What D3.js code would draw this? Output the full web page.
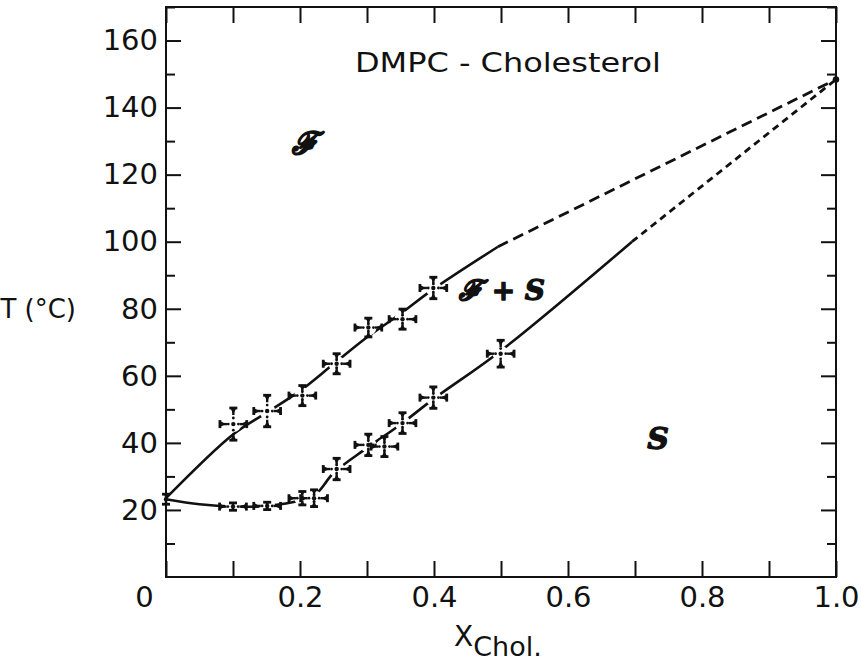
<!DOCTYPE html>
<html>
<head>
<meta charset="utf-8">
<script src="https://cdn.jsdelivr.net/npm/d3@7"></script>
<style>
  body { margin: 0; background: #fff; }
  svg { display: block; }
  .axis text { font-family: "DejaVu Sans", sans-serif; fill: #111; }
  .axis line { stroke: #111; stroke-width: 2; }
  .axis path { display: none; }
</style>
</head>
<body>
<div id="chart"></div>
<script>
// tick values
const xTicks = [0, 0.1, 0.2, 0.3, 0.4, 0.5, 0.6, 0.7, 0.8, 0.9, 1.0]
const xLabels = {0: "0", 0.2: "0.2", 0.4: "0.4", 0.6: "0.6", 0.8: "0.8", 1: "1.0"}
const yMajor = [20, 40, 60, 80, 100, 120, 140, 160]
const yMinor = [10, 30, 50, 70, 90, 110, 130, 150, 170]

// measured points, upper boundary (F / F+S)
const upperX = [0.1005, 0.151, 0.2035, 0.2547, 0.302, 0.353, 0.399]
const upperT = [45.6, 49.5, 54.1, 63.6, 74.4, 76.9, 86.2]
const upperErrX = [0.02, 0.02, 0.02, 0.02, 0.02, 0.02, 0.02]
const upperErrT = [4.8, 4.7, 3.0, 3.0, 2.8, 3.0, 3.2]

// measured points, lower boundary (F+S / S)
const lowerX = [0, 0.1, 0.151, 0.2035, 0.221, 0.2547, 0.302, 0.326, 0.353, 0.399, 0.4995]
const lowerT = [23.2, 21.0, 21.2, 23.5, 23.5, 32.2, 39.4, 38.9, 45.9, 53.5, 66.6]
const lowerErrX = [0, 0.02, 0.02, 0.02, 0.02, 0.02, 0.02, 0.02, 0.02, 0.02, 0.02]
const lowerErrT = [1.5, 1.1, 1.1, 2.0, 2.5, 3.2, 3.2, 3.0, 3.1, 3.2, 4.0]

// drawn boundary lines (solid part), then extrapolated (dashed) part
const upperLineX = [0, 0.1, 0.15, 0.2, 0.25, 0.3, 0.35, 0.4, 0.4955]
const upperLineT = [23.5, 42.5, 49.0, 55.5, 63.5, 71.5, 78.5, 86.0, 98.5]
const upperDashX = [0.4955, 1.0]
const upperDashT = [98.5, 148.4]

const lowerLineX = [0, 0.05, 0.1, 0.15, 0.2, 0.225, 0.25, 0.3, 0.35, 0.4, 0.5, 0.6955]
const lowerLineT = [23.2, 21.7, 21.0, 21.2, 22.8, 25.0, 31.0, 38.5, 45.5, 53.2, 67.5, 100]
const lowerDashX = [0.6955, 1.0]
const lowerDashT = [100, 148.4]

const endPoint = {x: 1.0, t: 148.4}

const width = 861, height = 663
const margin = {left: 166, right: 25, top: 7, bottom: 86}

var svg = d3.select("#chart")
  .append("svg")
    .attr("width", width)
    .attr("height", height)

var x = d3.scaleLinear().domain([0, 1]).range([margin.left, width - margin.right])
var y = d3.scaleLinear().domain([0, 170]).range([height - margin.bottom, margin.top])

const ink = "#111"

// axes, ticks pointing inward
svg.append("g")
  .attr("class", "axis")
  .attr("transform", "translate(0," + y(0) + ")")
  .call(d3.axisBottom(x).tickValues(xTicks).tickSize(-16).tickPadding(9)
    .tickFormat(d => xLabels[Math.round(d * 10) / 10] || ""))
  .call(g => g.selectAll("text").attr("font-size", 29))
  .call(g => g.selectAll(".tick").filter(d => d === 0).select("text").attr("dx", -22))

svg.append("g")
  .attr("class", "axis")
  .attr("transform", "translate(0," + y(170) + ")")
  .call(d3.axisTop(x).tickValues(xTicks).tickSize(-16).tickFormat(""))

svg.append("g")
  .attr("class", "axis")
  .attr("transform", "translate(" + x(0) + ",0)")
  .call(d3.axisLeft(y).tickValues(yMajor).tickSize(-15).tickPadding(8))
  .call(g => g.selectAll("text").attr("font-size", 29))

svg.append("g")
  .attr("class", "axis")
  .attr("transform", "translate(" + x(0) + ",0)")
  .call(d3.axisLeft(y).tickValues(yMinor).tickSize(-9).tickFormat(""))

svg.append("g")
  .attr("class", "axis")
  .attr("transform", "translate(" + x(1) + ",0)")
  .call(d3.axisRight(y).tickValues(yMajor).tickSize(-15).tickFormat(""))

svg.append("g")
  .attr("class", "axis")
  .attr("transform", "translate(" + x(1) + ",0)")
  .call(d3.axisRight(y).tickValues(yMinor).tickSize(-9).tickFormat(""))

// frame
svg.append("rect")
  .attr("x", x(0)).attr("y", y(170))
  .attr("width", x(1) - x(0)).attr("height", y(0) - y(170))
  .attr("fill", "none").attr("stroke", ink).attr("stroke-width", 2)

// boundary lines
var line = d3.line().x(d => x(d[0])).y(d => y(d[1])).curve(d3.curveCatmullRom)
const zip = (a, b) => a.map((v, i) => [v, b[i]])

svg.append("path")
  .datum(zip(upperLineX, upperLineT))
  .attr("d", line)
  .attr("fill", "none").attr("stroke", ink).attr("stroke-width", 2.6)

svg.append("path")
  .datum(zip(lowerLineX, lowerLineT))
  .attr("d", line)
  .attr("fill", "none").attr("stroke", ink).attr("stroke-width", 2.6)

svg.append("path")
  .datum(zip(upperDashX, upperDashT))
  .attr("d", line)
  .attr("fill", "none").attr("stroke", ink).attr("stroke-width", 2.8)
  .attr("stroke-dasharray", "11,6")

svg.append("path")
  .datum(zip(lowerDashX, lowerDashT))
  .attr("d", line)
  .attr("fill", "none").attr("stroke", ink).attr("stroke-width", 2.8)
  .attr("stroke-dasharray", "7,5")

svg.append("circle")
  .attr("cx", x(endPoint.x)).attr("cy", y(endPoint.t))
  .attr("r", 3.2).attr("fill", ink)

// error-bar crosses
function drawPoints(xs, ts, exs, ets) {
  var pts = xs.map((v, i) => ({x: v, t: ts[i], ex: exs[i], et: ets[i]}))

  var g = svg.append("g")
  var cross = g.selectAll("g.pt")
    .data(pts)
    .enter()
    .append("g")
    .attr("class", "pt")
    .attr("transform", d => "translate(" + x(d.x) + "," + y(d.t) + ")")

  // white gap where the boundary line meets the cross
  cross.append("circle")
    .attr("r", d => d.ex > 0 ? 8 : 0)
    .attr("fill", "#fff")

  cross.each(function(d) {
    var c = d3.select(this)
    var lx = x(d.x + d.ex) - x(d.x)
    var ly = y(d.t - d.et) - y(d.t)
    var arms = [[1, 0, lx], [-1, 0, lx], [0, 1, ly], [0, -1, ly]]
    arms.forEach(a => {
      var L = a[2]
      if (L <= 0) return
      var ux = a[0], uy = a[1]
      // end cap
      c.append("line")
        .attr("x1", ux * L - uy * 4).attr("y1", uy * L - ux * 4)
        .attr("x2", ux * L + uy * 4).attr("y2", uy * L + ux * 4)
        .attr("stroke", ink).attr("stroke-width", 2.8)
      // wedge toward the centre
      var w = Math.min(6, L * 0.5)
      c.append("path")
        .attr("d", "M" + (ux * L - uy * 3) + "," + (uy * L - ux * 3) +
                   "L" + (ux * L + uy * 3) + "," + (uy * L + ux * 3) +
                   "L" + (ux * (L - w)) + "," + (uy * (L - w)) + "Z")
        .attr("fill", ink)
      c.append("line")
        .attr("x1", ux * L).attr("y1", uy * L)
        .attr("x2", ux * (L - w - 1)).attr("y2", uy * (L - w - 1))
        .attr("stroke", ink).attr("stroke-width", 2.4)
      if (L > 8) {
        c.append("circle")
          .attr("cx", ux * L * 0.38).attr("cy", uy * L * 0.38)
          .attr("r", 1.4).attr("fill", ink)
      }
    })
    c.append("circle").attr("r", 2.2).attr("fill", ink)
  })
}

drawPoints(upperX, upperT, upperErrX, upperErrT)
drawPoints(lowerX, lowerT, lowerErrX, lowerErrT)

// texts
svg.append("text")
  .attr("x", 355).attr("y", 72)
  .attr("font-family", "DejaVu Sans, sans-serif")
  .attr("font-size", 26)
  .attr("textLength", 306).attr("lengthAdjust", "spacingAndGlyphs")
  .attr("fill", ink)
  .text("DMPC - Cholesterol")

svg.append("text")
  .attr("x", 76).attr("y", y(80))
  .attr("dy", "0.36em")
  .attr("text-anchor", "end")
  .attr("font-family", "DejaVu Sans, sans-serif")
  .attr("font-size", 26)
  .attr("fill", ink)
  .text("T (°C)")

var xl = svg.append("text")
  .attr("x", 454).attr("y", 646)
  .attr("font-family", "DejaVu Sans, sans-serif")
  .attr("font-size", 28)
  .attr("fill", ink)
xl.append("tspan").text("X")
xl.append("tspan").attr("dy", 10).attr("font-size", 27).text("Chol.")

function phase(txt, cx, cy, size) {
  svg.append("text")
    .attr("x", cx).attr("y", cy)
    .attr("dy", "0.35em")
    .attr("text-anchor", "middle")
    .attr("font-family", "DejaVu Serif, serif")
    .attr("font-style", "italic")
    .attr("font-weight", "bold")
    .attr("font-size", size)
    .attr("fill", ink)
    .attr("stroke", ink)
    .attr("stroke-width", 1.3)
    .attr("stroke-linejoin", "round")
    .text(txt)
}
phase("ℱ", 305, 143, 31)
phase("ℱ + S", 502, 290, 28)
phase("S", 658, 438, 30)
</script>
</body>
</html>
